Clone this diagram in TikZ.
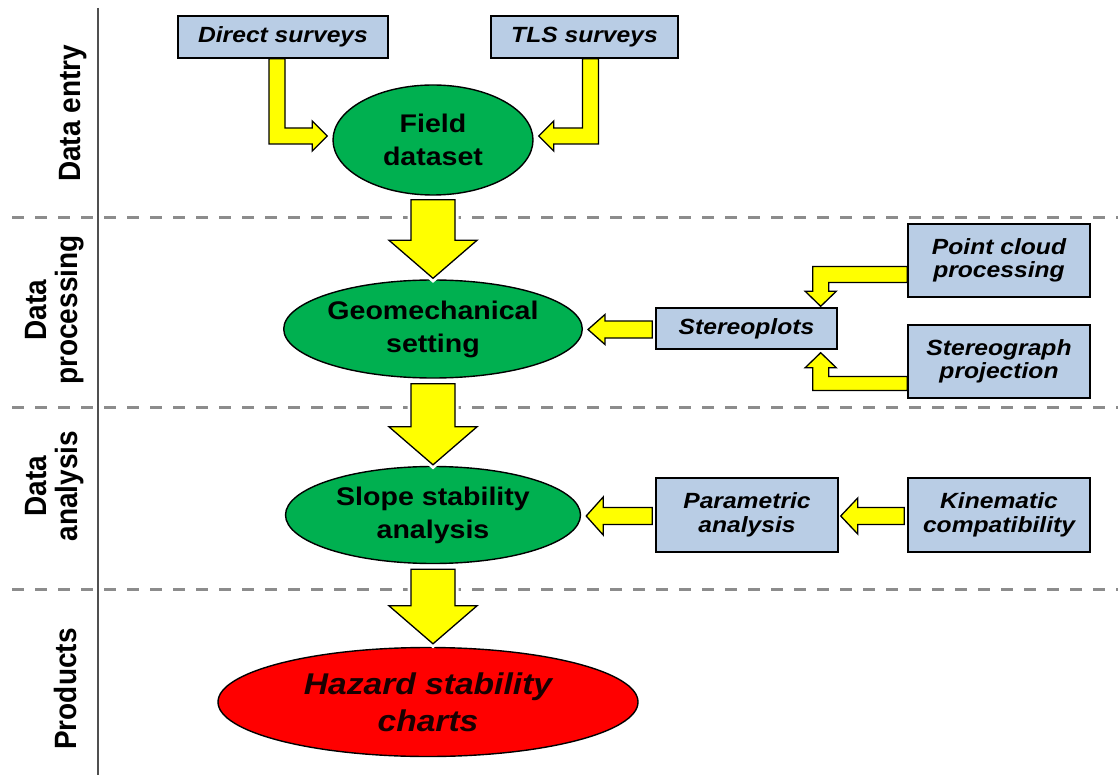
\documentclass[tikz,border=0pt]{standalone}
\usepackage{fontspec}
\setmainfont{Liberation Sans}
\newfontfamily\wfont[FakeStretch=1.12]{Liberation Sans}
\usepackage{graphicx}
\usetikzlibrary{shapes.geometric,calc}
\definecolor{boxblue}{HTML}{B9CDE5}
\definecolor{egreen}{HTML}{00B050}
\definecolor{ylw}{HTML}{FFFF00}
\definecolor{hazred}{HTML}{FF0000}
\definecolor{dashgray}{HTML}{8C8C8C}
\definecolor{divgray}{HTML}{505050}
\tikzset{
  inbox/.style={draw=black, line width=1.4pt, fill=boxblue, inner sep=0pt, align=center,
    font=\wfont\bfseries\itshape\fontsize{22}{23.5}\selectfont},
  oval/.style={ellipse, draw=black, line width=1.4pt, fill=egreen, inner sep=0pt, align=center,
    font=\wfont\bfseries\fontsize{25.5}{33}\selectfont},
  blockarrow/.style={draw=black, line width=1.3pt, fill=ylw, line join=miter},
  halo/.style={draw=white, line width=7pt, fill=white},
  sepline/.style={dashgray, line width=3pt, dash pattern=on 12pt off 11pt},
  sidelabel/.style={rotate=90, inner sep=0pt, font=\bfseries\fontsize{28}{28}\selectfont}
}
% vertical block arrow: #1 start (top), #2 tip (bottom)
\newcommand\vblock[3][blockarrow]{%
  \path[#1] let \p1=(#2), \p2=(#3) in
    (\x1-22pt,\y1) -- (\x1+22pt,\y1) -- (\x1+22pt,\y2+38pt) -- (\x1+44pt,\y2+38pt)
    -- (\x1,\y2) -- (\x1-44pt,\y2+38pt) -- (\x1-22pt,\y2+38pt) -- cycle;}
% horizontal left block arrow: #1 head half-height, #2 start (right), #3 tip (left)
\newcommand\hblock[3]{%
  \path[blockarrow] let \p1=(#2), \p2=(#3) in
    (\x1,\y1+8.5pt) -- (\x2+17pt,\y1+8.5pt) -- (\x2+17pt,\y1+#1) -- (\x2,\y1)
    -- (\x2+17pt,\y1-#1) -- (\x2+17pt,\y1-8.5pt) -- (\x1,\y1-8.5pt) -- cycle;}
\begin{document}
\begin{tikzpicture}[x=1pt,y=-1pt]
\useasboundingbox (0,0) rectangle (1118,775);

% separators
\draw[divgray, line width=2pt] (98,8) -- (98,775);
\draw[sepline] (12,218) -- (1118,218);
\draw[sepline] (12,407) -- (1118,407);
\draw[sepline] (12,589) -- (1118,589);

% side labels
\node[sidelabel, anchor=base] (l1) at (80,113.5) {\scalebox{1}[1.1]{Data entry}};
\node[sidelabel] (l2) at (56,310) {\scalebox{1}[1.1]{\begin{tabular}{@{}c@{}}Data\\processing\end{tabular}}};
\node[sidelabel] (l3) at (56,486) {\scalebox{1}[1.1]{\begin{tabular}{@{}c@{}}Data\\analysis\end{tabular}}};
\node[sidelabel, anchor=base] (l4) at (76,689) {\scalebox{1}[1.1]{Products}};

% main nodes
\node[oval, minimum width=200pt, minimum height=110pt] (field) at (433,140) {Field\\dataset};
\node[oval, minimum width=295pt, minimum height=98pt] (geo) at (433,329) {Geomechanical\\setting};
\node[oval, minimum width=295pt, minimum height=97pt] (slope) at (433,515) {Slope stability\\analysis};
\node[ellipse, draw=black, line width=1.4pt, fill=hazred, inner sep=0pt, align=center,
  minimum width=420pt, minimum height=109pt,
  font=\wfont\bfseries\itshape\fontsize{30}{37}\selectfont, text=black!90!red] (haz) at (428,702) {Hazard stability\\charts};

\node[inbox, minimum width=210pt, minimum height=42pt] (direct) at (283,37) {Direct surveys};
\node[inbox, minimum width=187pt, minimum height=42pt] (tls) at (584.5,37) {TLS surveys};
\node[inbox, minimum width=182pt, minimum height=73pt] (pc) at (999,260.5) {Point cloud\\processing};
\node[inbox, minimum width=181pt, minimum height=41pt] (stereo) at (746.5,328.5) {Stereoplots};
\node[inbox, minimum width=182pt, minimum height=73pt] (sg) at (999,361.5) {Stereograph\\projection};
\node[inbox, minimum width=182pt, minimum height=74pt] (par) at (747,515) {Parametric\\analysis};
\node[inbox, minimum width=182pt, minimum height=74pt] (kin) at (999,515) {Kinematic\\compatibility};

% vertical block arrows
\coordinate (a1s) at ($(field.south)+(0,4)$);
\coordinate (a1t) at ($(geo.north)+(0,-1)$);
\coordinate (a2s) at ($(geo.south)+(0,5)$);
\coordinate (a2t) at ($(slope.north)+(0,-1)$);
\coordinate (a3s) at ($(slope.south)+(0,5)$);
\coordinate (a3t) at ($(haz.north)+(5,-3)$);
\vblock[halo]{a1s}{a1t}\vblock{a1s}{a1t}
\vblock[halo]{a2s}{a2t}\vblock{a2s}{a2t}
\vblock[halo]{a3s}{a3t}\vblock{a3s}{a3t}

% elbow: Direct surveys -> Field dataset (down, then right)
\coordinate (e1s) at ($(direct.south)+(-6,0)$);
\coordinate (e1t) at ($(field.west)+(-5,-4)$);
\path[blockarrow] let \p1=(e1s), \p2=(e1t) in
  (\x1-8pt,\y1) -- (\x1+8pt,\y1) -- (\x1+8pt,\y2+8pt) -- (\x2-15pt,\y2+8pt) -- (\x2-15pt,\y2+15pt)
  -- (\x2,\y2) -- (\x2-15pt,\y2-15pt) -- (\x2-15pt,\y2-8pt) -- (\x1-8pt,\y2-8pt) -- cycle;
% elbow: TLS surveys -> Field dataset (down, then left)
\coordinate (e2s) at ($(tls.south)+(6,0)$);
\coordinate (e2t) at ($(field.east)+(5,-4)$);
\path[blockarrow] let \p1=(e2s), \p2=(e2t) in
  (\x1+8pt,\y1) -- (\x1-8pt,\y1) -- (\x1-8pt,\y2+8pt) -- (\x2+15pt,\y2+8pt) -- (\x2+15pt,\y2+15pt)
  -- (\x2,\y2) -- (\x2+15pt,\y2-15pt) -- (\x2+15pt,\y2-8pt) -- (\x1+8pt,\y2-8pt) -- cycle;
% elbow: Point cloud processing -> Stereoplots (left, then down)
\coordinate (e3s) at ($(pc.west)+(0,14)$);
\coordinate (e3t) at ($(stereo.north east)+(-17,-1)$);
\path[blockarrow] let \p1=(e3s), \p2=(e3t) in
  (\x1,\y1+8pt) -- (\x2-8pt,\y1+8pt) -- (\x2-8pt,\y2+15pt) -- (\x2-15.5pt,\y2+15pt) -- (\x2,\y2)
  -- (\x2+15.5pt,\y2+15pt) -- (\x2+8pt,\y2+15pt) -- (\x2+8pt,\y1-8pt) -- (\x1,\y1-8pt) -- cycle;
% elbow: Stereograph projection -> Stereoplots (left, then up)
\coordinate (e4s) at ($(sg.west)+(0,22)$);
\coordinate (e4t) at ($(stereo.south east)+(-17,3)$);
\path[blockarrow] let \p1=(e4s), \p2=(e4t) in
  (\x1,\y1-7pt) -- (\x2-8pt,\y1-7pt) -- (\x2-8pt,\y2-15pt) -- (\x2-15.5pt,\y2-15pt) -- (\x2,\y2)
  -- (\x2+15.5pt,\y2-15pt) -- (\x2+8pt,\y2-15pt) -- (\x2+8pt,\y1+7pt) -- (\x1,\y1+7pt) -- cycle;

% horizontal block arrows
\coordinate (h1s) at ($(stereo.west)+(-3,1)$);
\coordinate (h1t) at ($(geo.east)+(5,0)$);
\hblock{15pt}{h1s}{h1t}
\coordinate (h2s) at ($(par.west)+(-3,1)$);
\coordinate (h2t) at ($(slope.east)+(5,0)$);
\hblock{19pt}{h2s}{h2t}
\coordinate (h3s) at ($(kin.west)+(-3,1)$);
\coordinate (h3t) at ($(par.east)+(2,0)$);
\hblock{18pt}{h3s}{h3t}
\end{tikzpicture}
\end{document}
